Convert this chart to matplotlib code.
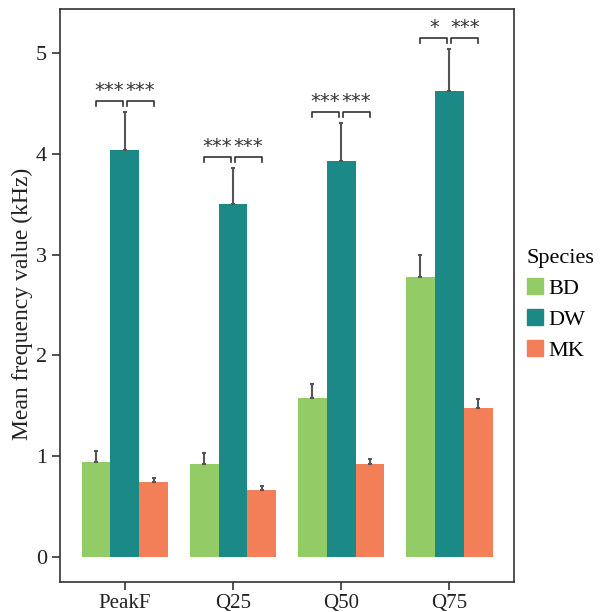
import numpy as np
import matplotlib.pyplot as plt
from matplotlib.patches import Patch

# data
categories = ["PeakF", "Q25", "Q50", "Q75"]
species = ["BD", "DW", "MK"]
bd_mean = [0.94, 0.92, 1.58, 2.78]
bd_err = [0.11, 0.11, 0.14, 0.22]
dw_mean = [4.04, 3.50, 3.93, 4.63]
dw_err = [0.38, 0.36, 0.38, 0.41]
mk_mean = [0.74, 0.66, 0.92, 1.48]
mk_err = [0.04, 0.04, 0.05, 0.09]
sig_left = ["***", "***", "***", "*"]    # BD vs DW
sig_right = ["***", "***", "***", "***"]  # DW vs MK

colors = ["#93CB67", "#1B8A87", "#F27F57"]
plt.rcParams['font.family'] = ['Liberation Serif', 'DejaVu Serif']

fig = plt.figure(figsize=(6, 6.12), dpi=100)
ax = fig.add_axes([0.1, 0.049, 0.757, 0.936])

x = np.arange(len(categories))
w = 0.8 / 3
means = [bd_mean, dw_mean, mk_mean]
errs = [bd_err, dw_err, mk_err]
for i in range(3):
    ax.bar(x + (i - 1) * w, means[i], w, color=colors[i], label=species[i],
           yerr=[np.zeros(4), errs[i]], error_kw=dict(ecolor="#555555", elinewidth=1.5,
                                                     capsize=1.5, capthick=1.5))

# significance brackets
for j in range(len(categories)):
    top = dw_mean[j] + dw_err[j] + 0.11
    leg = 0.05
    for k, lab in enumerate([sig_left[j], sig_right[j]]):
        if k == 0:
            x0, x1 = x[j] - w, x[j] - 0.02
        else:
            x0, x1 = x[j] + 0.02, x[j] + w
        ax.plot([x0, x0, x1, x1], [top - leg, top, top, top - leg],
                color="#333333", lw=1.2)
        ax.text((x0 + x1) / 2, top + 0.01, lab, ha="center", va="bottom",
                fontsize=14, family="DejaVu Sans", color="#333333")

ax.set_xlim(-0.6, 3.6)
ax.set_ylim(-0.25, 5.44)
ax.set_xticks(x)
ax.set_xticklabels(categories)
ax.set_yticks([0, 1, 2, 3, 4, 5])
ax.tick_params(labelsize=16, length=6, width=1.2, color="#333333", labelcolor="#222222")
ax.tick_params(axis="x", labelsize=15, pad=2.5)
for s in ax.spines.values():
    s.set_linewidth(1.2)
    s.set_color("#333333")
ax.set_ylabel("Mean frequency value (kHz)", fontsize=17, color="#222222")
ax.yaxis.set_label_coords(-0.06, 0.485)

handles = [Patch(color=c) for c in colors]
leg = fig.legend(handles, species, title="Species", loc="upper left",
                 bbox_to_anchor=(0.878, 0.593), frameon=False, fontsize=16,
                 title_fontsize=16, handlelength=0.75, handleheight=0.75,
                 handletextpad=0.2, labelspacing=0.45, alignment="left",
                 borderpad=0, borderaxespad=0)

fig.savefig("out.png", dpi=100)
